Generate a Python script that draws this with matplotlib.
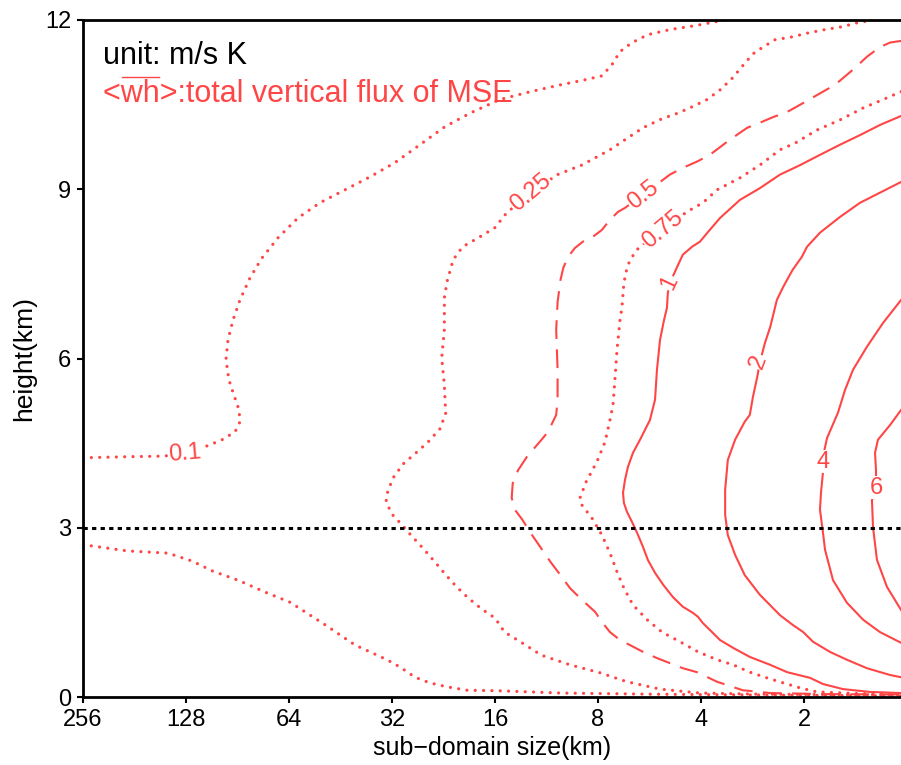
import matplotlib
matplotlib.use("Agg")
import matplotlib.pyplot as plt
from matplotlib.lines import Line2D
from matplotlib.transforms import IdentityTransform

# contour lines of <wh> traced in (sub-domain size [km], height [km])
lev010_top_size = [256, 186.6, 147.4, 111.1, 100.4, 92.0, 89.0, 89.6, 92.7, 95.9, 97.8, 96.5, 93.3,
                   89.0, 83.2, 76.8, 68.9, 60.3, 52.0, 43.9, 37.1, 31.4, 26.5, 22.4, 18.9, 15.5,
                   12.6, 10.3, 8.73, 7.79, 7.28, 6.90, 6.36, 5.72, 4.93, 4.16, 3.40]
lev010_top_h = [4.24, 4.26, 4.27, 4.45, 4.56, 4.70, 4.88, 5.09, 5.35, 5.62, 5.98, 6.33, 6.68,
                7.04, 7.43, 7.78, 8.14, 8.49, 8.76, 8.99, 9.22, 9.47, 9.79, 10.11, 10.35, 10.59,
                10.73, 10.85, 10.94, 11.01, 11.21, 11.44, 11.60, 11.74, 11.83, 11.90, 12.0]

lev010_bot_size = [256, 190.4, 144.5, 122.9, 106.8, 90.2, 75.2, 63.6, 57.5, 50.2, 45.4, 41.0, 37.1,
                   33.1, 30.3, 27.4, 24.8, 22.1, 19.3, 15.5, 10.3, 5.64, 2.69, 1.04]
lev010_bot_h = [2.70, 2.59, 2.55, 2.41, 2.23, 2.07, 1.86, 1.68, 1.51, 1.28, 1.10, 0.92, 0.80,
                0.66, 0.53, 0.35, 0.25, 0.18, 0.12, 0.11, 0.07, 0.05, 0.035, 0.02]

lev025_size = [1.257, 1.400, 1.549, 1.736, 1.947, 2.17, 2.43, 2.65, 2.82, 3.02, 3.25, 3.52, 3.84,
               4.25, 4.67, 5.20, 5.91, 7.38, 8.91, 10.5, 12.6, 14.8, 16.0, 17.9, 19.9, 21.2, 22.1,
               22.5, 22.5, 22.9, 22.5, 22.3, 23.2, 25.1, 27.2, 29.7, 31.8, 33.1, 33.3, 32.0, 29.9,
               28.0, 26.0, 24.1, 22.4, 20.7, 19.2, 17.5, 16.0, 15.0, 13.5, 11.7, 9.66, 7.90, 6.58,
               5.27, 4.03, 2.69, 1.04]
lev025_h = [12.0, 11.95, 11.88, 11.83, 11.77, 11.70, 11.65, 11.51, 11.40, 11.19, 10.96, 10.76, 10.59,
            10.46, 10.35, 10.25, 10.09, 9.70, 9.43, 9.26, 8.94, 8.58, 8.32, 8.14, 7.98, 7.75, 7.36,
            7.07, 6.51, 6.01, 5.53, 5.02, 4.75, 4.52, 4.33, 4.13, 3.88, 3.60, 3.46, 3.24, 3.05,
            2.85, 2.64, 2.41, 2.18, 1.95, 1.76, 1.56, 1.40, 1.15, 0.98, 0.74, 0.57, 0.43, 0.27,
            0.14, 0.07, 0.05, 0.035]

lev050_size = [1.04, 1.121, 1.199, 1.309, 1.419, 1.498, 1.624, 1.760, 2.05, 2.24, 2.46, 2.69, 2.93,
               3.29, 3.77, 4.11, 4.52, 4.93, 5.91, 6.67, 6.99, 7.38, 7.79, 8.27, 8.86, 9.34, 9.79,
               10.1, 10.3, 10.5, 10.6, 10.5, 10.5, 10.6, 11.2, 11.7, 12.9, 13.7, 14.2, 14.3, 14.0,
               13.3, 12.6, 11.8, 11.0, 10.3, 9.66, 8.91, 8.16, 7.79, 7.38, 6.90, 6.45, 5.91, 5.38,
               4.93, 4.52, 4.11, 3.59, 3.02, 2.51, 1.68, 1.04]
lev050_h = [11.63, 11.60, 11.52, 11.35, 11.15, 11.03, 10.85, 10.73, 10.50, 10.37, 10.28, 10.18, 10.09,
            9.88, 9.61, 9.49, 9.38, 9.26, 8.90, 8.67, 8.60, 8.46, 8.28, 8.16, 8.07, 7.96, 7.80,
            7.61, 7.39, 7.00, 6.51, 5.80, 5.27, 5.00, 4.70, 4.56, 4.26, 4.02, 3.79, 3.53, 3.32,
            3.14, 2.91, 2.66, 2.39, 2.16, 1.93, 1.72, 1.51, 1.33, 1.15, 1.01, 0.92, 0.80, 0.69,
            0.60, 0.51, 0.44, 0.27, 0.12, 0.07, 0.05, 0.045]

lev075_size = [1.04, 1.175, 1.344, 1.569, 1.833, 2.12, 2.35, 2.69, 3.08, 3.59, 3.95, 4.40, 5.16,
               5.95, 6.15, 6.36, 6.54, 6.63, 6.72, 6.81, 6.90, 7.04, 7.14, 7.23, 7.38, 7.63, 8.06,
               8.67, 9.03, 8.91, 8.33, 7.79, 7.38, 7.04, 6.72, 6.32, 5.75, 5.20, 4.61, 4.08, 3.59,
               3.22, 2.88, 2.57, 2.30, 2.05, 1.833, 1.372, 1.04]
lev075_h = [10.73, 10.59, 10.44, 10.23, 10.05, 9.82, 9.70, 9.43, 9.20, 8.99, 8.76, 8.60, 8.28,
            8.01, 7.93, 7.80, 7.66, 7.52, 7.34, 6.90, 6.68, 6.15, 5.62, 5.18, 4.91, 4.52, 4.17,
            3.81, 3.53, 3.40, 3.17, 2.87, 2.55, 2.22, 1.93, 1.63, 1.37, 1.15, 0.98, 0.80, 0.66,
            0.57, 0.44, 0.34, 0.25, 0.16, 0.09, 0.06, 0.053]

lev1_size = [1.04, 1.199, 1.372, 1.569, 1.796, 2.05, 2.35, 2.69, 3.08, 3.52, 3.77, 4.03, 4.25, 4.52,
             4.70, 4.93, 5.00, 5.03, 5.13, 5.27, 5.38, 5.45, 5.64, 6.03, 6.32, 6.54, 6.67, 6.76,
             6.72, 6.58, 6.36, 6.15, 5.91, 5.72, 5.45, 5.16, 4.83, 4.52, 4.22, 4.08, 3.95, 3.77,
             3.52, 3.22, 2.88, 2.51, 2.24, 1.921, 1.760, 1.538, 1.283, 1.04]
lev1_h = [10.30, 10.14, 9.96, 9.79, 9.61, 9.43, 9.26, 9.02, 8.81, 8.49, 8.28, 8.07, 7.98, 7.84,
          7.62, 7.34, 7.16, 6.90, 6.68, 6.33, 5.80, 5.27, 4.91, 4.56, 4.33, 4.08, 3.85, 3.62,
          3.44, 3.28, 3.10, 2.91, 2.66, 2.43, 2.20, 1.99, 1.77, 1.60, 1.49, 1.42, 1.31, 1.19,
          1.01, 0.87, 0.71, 0.57, 0.44, 0.34, 0.23, 0.14, 0.09, 0.07]

lev2_size = [1.04, 1.199, 1.372, 1.569, 1.796, 1.960, 2.03, 2.16, 2.30, 2.40, 2.51, 2.60, 2.69, 2.74,
             2.82, 2.88, 2.98, 3.18, 3.34, 3.40, 3.40, 3.34, 3.18, 2.98, 2.69, 2.35, 2.16, 2.01,
             1.883, 1.680, 1.498, 1.309, 1.121, 1.04]
lev2_h = [9.13, 8.94, 8.76, 8.51, 8.23, 7.98, 7.80, 7.57, 7.27, 7.04, 6.56, 6.28, 5.94, 5.67,
          5.32, 5.00, 4.88, 4.56, 4.20, 3.67, 3.23, 2.87, 2.52, 2.16, 1.81, 1.45, 1.28, 1.15,
          0.98, 0.80, 0.66, 0.51, 0.39, 0.35]

lev4_size = [1.04, 1.175, 1.309, 1.438, 1.518, 1.591, 1.713, 1.760, 1.760, 1.784, 1.796, 1.760,
             1.736, 1.645, 1.498, 1.344, 1.199, 1.04]
lev4_h = [7.04, 6.63, 6.21, 5.80, 5.44, 5.04, 4.59, 4.26, 3.99, 3.62, 3.32, 2.91,
          2.61, 2.07, 1.67, 1.37, 1.15, 0.96]

lev6_size = [1.04, 1.121, 1.216, 1.240, 1.232, 1.232, 1.266, 1.257, 1.224, 1.144, 1.04]
lev6_h = [5.09, 4.82, 4.56, 4.33, 4.02, 3.71, 3.49, 3.01, 2.43, 1.95, 1.54]

# inline contour labels
label_text = ["0.1", "0.25", "0.5", "0.75", "1", "2", "4", "6"]
label_size = [128.9, 12.6, 5.91, 5.16, 4.93, 2.71, 1.76, 1.232]
label_h = [4.31, 8.94, 8.90, 8.28, 7.34, 5.94, 4.17, 3.71]
label_rot = [5, 40, 38, 40, 65, 70, 0, 0]

x_ticks = [256, 128, 64, 32, 16, 8, 4, 2]
y_ticks = [0, 3, 6, 9, 12]

red = "#ff4646"
dotted = dict(color=red, lw=2.3, dashes=(0.01, 2.6), dash_capstyle="round")
dashed = dict(color=red, lw=1.5, dashes=(9, 5))
solid = dict(color=red, lw=1.5)

digits = ["Liberation Sans Narrow", "Liberation Sans", "DejaVu Sans"]
plain = ["Liberation Sans", "DejaVu Sans"]

fig = plt.figure(figsize=(9.01, 7.65), dpi=100)
ax = fig.add_axes([83 / 901, 68 / 765, 818 / 901, 677 / 765])

ax.plot(lev010_top_size, lev010_top_h, **dotted)
ax.plot(lev010_bot_size, lev010_bot_h, **dotted)
ax.plot(lev025_size, lev025_h, **dotted)
ax.plot(lev050_size, lev050_h, **dashed)
ax.plot(lev075_size, lev075_h, **dotted)
ax.plot(lev1_size, lev1_h, **solid)
ax.plot(lev2_size, lev2_h, **solid)
ax.plot(lev4_size, lev4_h, **solid)
ax.plot(lev6_size, lev6_h, **solid)

for s, xs, hs, rot in zip(label_text, label_size, label_h, label_rot):
    ax.text(xs, hs, s, color=red, fontsize=17, family=digits, rotation=rot,
            ha="center", va="center", rotation_mode="anchor", zorder=4,
            bbox=dict(fc="white", ec="none", pad=0.5))

ax.axhline(3, color="black", lw=2.2, dashes=(1.4, 1.4), zorder=5)

ax.set_xscale("log", base=2)
ax.set_xlim(256, 2 ** (6 / 103))
ax.set_ylim(0, 12)
ax.set_xticks(x_ticks)
ax.set_xticklabels([str(v) for v in x_ticks])
ax.minorticks_off()
ax.set_yticks(y_ticks)
ax.tick_params(direction="out", length=4.5, width=1.5, labelsize=17, pad=4)
for lab in ax.get_xticklabels() + ax.get_yticklabels():
    lab.set_family(digits)
ax.spines["right"].set_visible(False)
for side in ["left", "bottom", "top"]:
    ax.spines[side].set_linewidth(2)

ax.set_xlabel("sub\u2212domain size(km)", fontsize=18, family=plain)
ax.xaxis.set_label_coords(0.5, -0.057)
ax.set_ylabel("height(km)", fontsize=19, family=plain)
ax.yaxis.set_label_coords(-0.057, 0.5)

ax.text(0.0245, 0.935, "unit: m/s K", transform=ax.transAxes, fontsize=22,
        family=plain, va="baseline", ha="left")
note_kw = dict(transform=ax.transAxes, fontsize=22, family=plain, va="baseline",
               ha="left", color=red)
ax.text(0.0245, 0.879, "<wh>:total vertical flux of MSE", **note_kw)

# overline above "wh"
fig.canvas.draw()
r = fig.canvas.get_renderer()


def text_width(s):
    t = ax.text(0.0245, 0.879, s, **note_kw)
    w = t.get_window_extent(r).width
    t.remove()
    return w


x0, y0 = ax.transAxes.transform((0.0245, 0.879))
fig.add_artist(Line2D([x0 + text_width("<") + 1, x0 + text_width("<wh") - 1], [y0 + 25, y0 + 25],
                      color=red, lw=1.0, transform=IdentityTransform()))

fig.savefig("out.png", dpi=100)
